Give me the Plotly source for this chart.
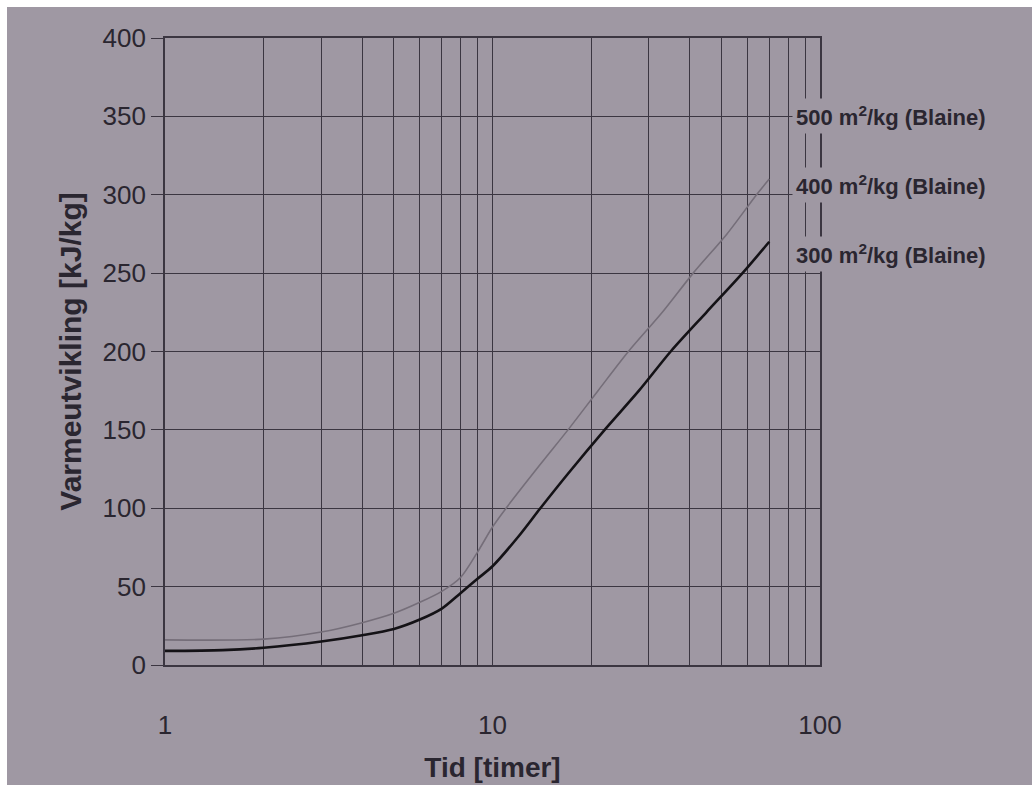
import plotly.graph_objects as go

# Heat of hydration versus time for cements of different fineness (Blaine)
hours_300 = [1, 1.5, 2, 3, 4, 5, 6, 7, 8, 9, 10, 12, 14, 17, 22, 28, 35, 45, 58, 70]
heat_300 = [9, 9.5, 11, 15, 19, 23, 29, 36, 46, 55, 63, 82, 100, 122, 150, 175, 200, 225, 250, 270]

hours_400 = [1, 2, 3, 4, 5, 6, 7, 8, 9, 10, 11, 14, 17, 21, 26, 33, 41, 52, 64, 70]
heat_400 = [16, 16.5, 21, 27, 33, 40, 47, 56, 72, 88, 100, 128, 150, 175, 200, 225, 250, 275, 300, 310]

# Curve labels and their heights on the y scale
label_texts = ["500 m<sup>2</sup>/kg (Blaine)", "400 m<sup>2</sup>/kg (Blaine)", "300 m<sup>2</sup>/kg (Blaine)"]
label_levels = [350, 306, 262]

# Log-scale decades (labelled) and the in-between grid positions
x_tickvals = [1, 10, 100]
x_ticktext = ["1", "10", "100"]
x_minor_vals = [2, 3, 4, 5, 6, 7, 8, 9, 20, 30, 40, 50, 60, 70, 80, 90]
y_tickvals = [0, 50, 100, 150, 200, 250, 300, 350, 400]

PAPER = "#9f98a3"
INK = "#2a2630"
GRID = "#3b3641"
FONT = "Liberation Sans, Arial, sans-serif"

fig = go.Figure()

fig.add_trace(go.Scatter(
    x=hours_400, y=heat_400, mode="lines",
    line=dict(color="#756e79", width=1.6, shape="spline", smoothing=0.8),
    name="400 m²/kg", showlegend=False,
))
fig.add_trace(go.Scatter(
    x=hours_300, y=heat_300, mode="lines",
    line=dict(color="#141216", width=2.6, shape="spline", smoothing=0.8),
    name="300 m²/kg", showlegend=False,
))

for text, level in zip(label_texts, label_levels):
    fig.add_annotation(
        x=0.958, xref="paper", y=level, yref="y",
        text=text, showarrow=False, xanchor="left", yanchor="middle",
        font=dict(family=FONT, size=22, color=INK, weight="bold"),
        bgcolor=PAPER, borderpad=3,
    )

# White strips along the top and left edges of the sheet
W, H = 1032, 785
L, R, T, B = 165, 212, 38, 120
pw, ph = W - L - R, H - T - B
def px_x(p):
    return (p - L) / pw
def px_y(p):
    return (H - B - p) / ph
fig.add_shape(type="rect", xref="paper", yref="paper",
              x0=px_x(0), x1=px_x(W), y0=px_y(0), y1=px_y(7),
              fillcolor="white", line=dict(width=0), layer="above")
fig.add_shape(type="rect", xref="paper", yref="paper",
              x0=px_x(0), x1=px_x(7), y0=px_y(0), y1=px_y(H),
              fillcolor="white", line=dict(width=0), layer="above")

fig.update_layout(
    template="none",
    width=W, height=H,
    margin=dict(l=L, r=R, t=T, b=B, autoexpand=False),
    paper_bgcolor=PAPER, plot_bgcolor=PAPER,
    font=dict(family=FONT, color=INK),
    showlegend=False,
)

fig.update_xaxes(
    type="log", range=[0, 2],
    tickmode="array", tickvals=x_tickvals, ticktext=x_ticktext,
    ticks="", ticklabelstandoff=36,
    tickfont=dict(size=26, color=INK),
    showgrid=True, gridcolor=GRID, gridwidth=1.2,
    minor=dict(tickmode="array", tickvals=x_minor_vals, ticks="",
               showgrid=True, gridcolor=GRID, gridwidth=1.2),
    showline=True, linecolor=GRID, linewidth=1.6, mirror=True,
    zeroline=False, automargin=False,
    title=dict(text="Tid [timer]", standoff=18,
               font=dict(size=28, color=INK, weight="bold")),
)
fig.update_yaxes(
    range=[0, 400], tickmode="array", tickvals=y_tickvals,
    ticks="outside", ticklen=12, tickcolor=GRID, tickwidth=1.2,
    tickfont=dict(size=26, color=INK),
    showgrid=True, gridcolor=GRID, gridwidth=1.2,
    showline=True, linecolor=GRID, linewidth=1.6, mirror=True,
    zeroline=False, automargin=False,
    title=dict(text="Varmeutvikling [kJ/kg]", standoff=12,
               font=dict(size=30, color=INK, weight="bold")),
)

fig.write_html("out.html")
